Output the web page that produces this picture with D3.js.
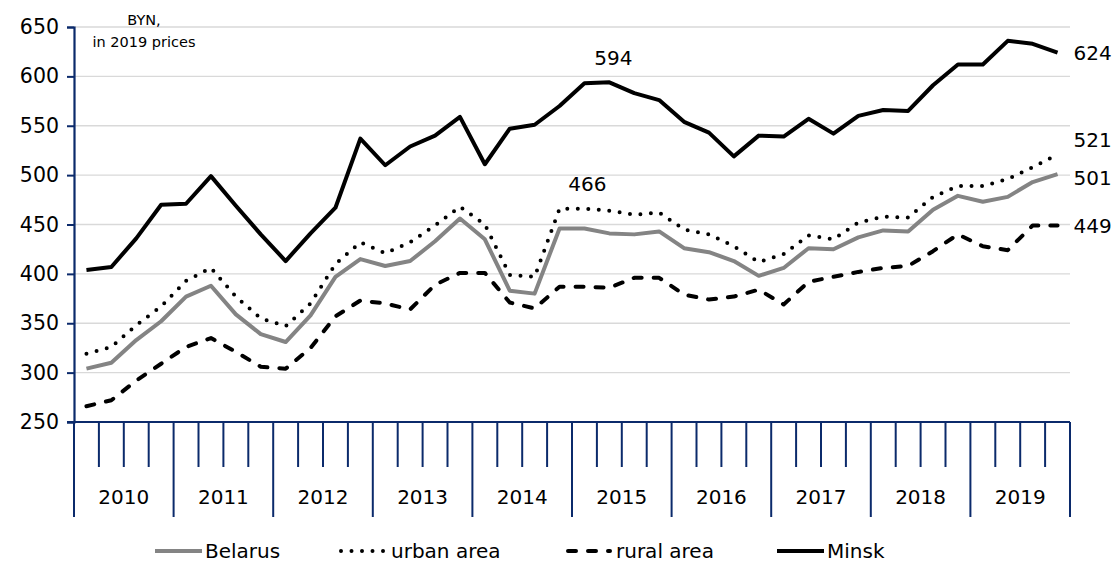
<!DOCTYPE html>
<html>
<head>
<meta charset="utf-8">
<script src="https://cdn.jsdelivr.net/npm/d3@7"></script>
<style>
  body { margin: 0; background: #fff; }
  svg { display: block; font-family: "DejaVu Sans", Verdana, sans-serif; }
</style>
</head>
<body>
<div id="chart"></div>
<script>
// values (BYN, 2019 prices), quarterly 2010-2019
var years = ["2010", "2011", "2012", "2013", "2014", "2015", "2016", "2017", "2018", "2019"];
var quarters = [];
years.forEach(function(y) { [1, 2, 3, 4].forEach(function(q) { quarters.push(y + "Q" + q); }); });

var belarus = [304, 310, 333, 352, 377, 388, 359, 339, 331, 358,
               397, 415, 408, 413, 433, 456, 435, 383, 380, 446,
               446, 441, 440, 443, 426, 422, 413, 398, 406, 426,
               425, 437, 444, 443, 465, 479, 473, 478, 493, 501];
var urban   = [319, 326, 348, 367, 393, 406, 377, 355, 347, 370,
               410, 432, 421, 432, 449, 468, 450, 399, 397, 466,
               466, 464, 460, 462, 445, 440, 428, 412, 420, 439,
               435, 452, 458, 457, 478, 489, 489, 496, 508, 521];
var rural   = [266, 272, 292, 309, 326, 335, 321, 306, 304, 325,
               357, 373, 370, 364, 389, 401, 401, 371, 365, 387,
               387, 386, 396, 396, 379, 374, 377, 384, 369, 392,
               397, 402, 406, 408, 423, 440, 428, 424, 449, 449];
var minsk   = [404, 407, 436, 470, 471, 499, 469, 440, 413, 441,
               467, 537, 510, 529, 540, 559, 511, 547, 551, 570,
               593, 594, 583, 576, 554, 543, 519, 540, 539, 557,
               542, 560, 566, 565, 591, 612, 612, 636, 633, 624];
var yTicks = [250, 300, 350, 400, 450, 500, 550, 600, 650];

var series = [
    { name: "Belarus",    values: belarus, color: "#848484", dash: null },
    { name: "urban area", values: urban,   color: "#000",    dash: "0 10.5" },
    { name: "rural area", values: rural,   color: "#000",    dash: "8 12" },
    { name: "Minsk",      values: minsk,   color: "#000",    dash: null }
];

var svgWidth = 1117;
var svgHeight = 566;
var navy = "#0b2a6b";
var plotLeft = 74, plotRight = 1070, plotTop = 27, plotBottom = 422;

var svg = d3.select("#chart")
    .append("svg")
    .attr("width", svgWidth)
    .attr("height", svgHeight);

var x = d3.scaleBand().domain(quarters).range([plotLeft, plotRight]).padding(0);
var xYear = d3.scaleBand().domain(years).range([plotLeft, plotRight]).padding(0);
var y = d3.scaleLinear().domain([250, 650]).range([plotBottom, plotTop]);

function cx(i) { return x(quarters[i]) + x.bandwidth() / 2; }

// gridlines
svg.append("g")
    .selectAll("line")
    .data(yTicks.slice(1))
    .enter()
    .append("line")
    .attr("x1", plotLeft)
    .attr("x2", plotRight)
    .attr("y1", d => y(d))
    .attr("y2", d => y(d))
    .attr("stroke", "#d9d9d9")
    .attr("stroke-width", 1.3);

// y axis
var leftAxis = d3.axisLeft(y).tickValues(yTicks).tickSize(7).tickPadding(8);
var gy = svg.append("g")
    .attr("transform", `translate(${plotLeft}, 0)`)
    .call(leftAxis);
gy.select(".domain").attr("stroke", navy).attr("stroke-width", 2.2);
gy.selectAll(".tick line").attr("stroke", navy).attr("stroke-width", 2);
gy.selectAll(".tick text")
    .attr("font-size", "20.5px")
    .attr("font-family", "DejaVu Sans")
    .attr("fill", "#000");

// x axis: quarter ticks + year separators
var gx = svg.append("g");
gx.append("line")
    .attr("x1", plotLeft - 7).attr("x2", plotRight)
    .attr("y1", plotBottom).attr("y2", plotBottom)
    .attr("stroke", navy).attr("stroke-width", 2.2);
gx.selectAll(".qtick")
    .data(quarters.concat(["end"]))
    .enter()
    .append("line")
    .attr("class", "qtick")
    .attr("x1", (d, i) => i < quarters.length ? x(d) : plotRight)
    .attr("x2", (d, i) => i < quarters.length ? x(d) : plotRight)
    .attr("y1", plotBottom)
    .attr("y2", (d, i) => i % 4 === 0 ? 517 : 467)
    .attr("stroke", navy)
    .attr("stroke-width", 2);

var bottomAxis = d3.axisBottom(xYear).tickSize(0).tickPadding(0);
var gyears = svg.append("g")
    .attr("transform", `translate(0, 497)`)
    .call(bottomAxis);
gyears.select(".domain").remove();
gyears.selectAll(".tick text")
    .attr("font-size", "20px")
    .attr("font-family", "DejaVu Sans")
    .attr("fill", "#000")
    .attr("dy", "0.35em");

// lines
var line = d3.line()
    .x((d, i) => cx(i))
    .y(d => y(d));

series.forEach(function(s) {
    svg.append("path")
        .datum(s.values)
        .attr("fill", "none")
        .attr("stroke", s.color)
        .attr("stroke-width", 4)
        .attr("stroke-linejoin", "round")
        .attr("stroke-linecap", s.dash ? "round" : "butt")
        .attr("stroke-dasharray", s.dash)
        .attr("d", line);
});

// data labels
var labels = [
    { v: minsk[21],   i: 21, dx: 4,  dy: -24, anchor: "middle" },
    { v: urban[20],   i: 20, dx: 3,  dy: -25, anchor: "middle" },
    { v: minsk[39],   i: 39, dx: 16, dy: 0,   anchor: "start" },
    { v: urban[39],   i: 39, dx: 16, dy: -14, anchor: "start" },
    { v: belarus[39], i: 39, dx: 16, dy: 4,   anchor: "start" },
    { v: rural[39],   i: 39, dx: 16, dy: 1,   anchor: "start" }
];
svg.append("g")
    .selectAll("text")
    .data(labels)
    .enter()
    .append("text")
    .attr("x", d => cx(d.i) + d.dx)
    .attr("y", d => y(d.v) + d.dy)
    .attr("dy", "0.35em")
    .attr("text-anchor", d => d.anchor)
    .attr("font-size", "20px")
    .text(d => d.v);

// unit note
svg.append("text")
    .attr("x", 144).attr("y", 20).attr("dy", "0.35em")
    .attr("text-anchor", "middle").attr("font-size", "14.5px")
    .text("BYN,");
svg.append("text")
    .attr("x", 144).attr("y", 42).attr("dy", "0.35em")
    .attr("text-anchor", "middle").attr("font-size", "14.5px")
    .text("in 2019 prices");

// legend
var legendPos = [155, 341, 566, 777];
var legendLen = [47, 47, 42, 47];
var legend = svg.append("g")
    .selectAll("g")
    .data(series)
    .enter()
    .append("g")
    .attr("transform", (d, i) => `translate(${legendPos[i]}, 551)`);
legend.append("line")
    .attr("x1", (d, i) => i === 2 ? 2 : 0)
    .attr("x2", (d, i) => (i === 2 ? 2 : 0) + legendLen[i])
    .attr("y1", 0).attr("y2", 0)
    .attr("stroke", d => d.color)
    .attr("stroke-width", 4)
    .attr("stroke-linecap", d => d.dash ? "round" : "butt")
    .attr("stroke-dasharray", d => d.dash);
legend.append("text")
    .attr("x", 50)
    .attr("dy", "0.35em")
    .attr("font-size", "20px")
    .text(d => d.name);
</script>
</body>
</html>
